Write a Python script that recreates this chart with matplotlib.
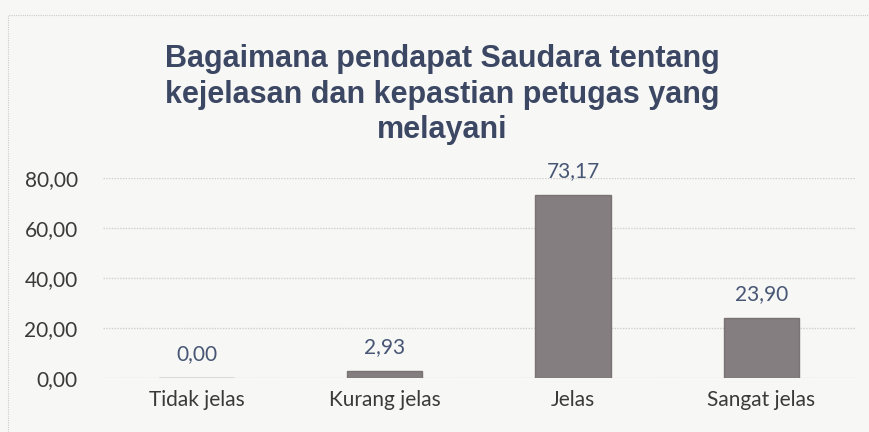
import matplotlib
matplotlib.use("Agg")
import matplotlib.pyplot as plt
from matplotlib.patches import Rectangle

categories = ["Tidak jelas", "Kurang jelas", "Jelas", "Sangat jelas"]
values = [0.00, 2.93, 73.17, 23.90]
yticks = [0, 20, 40, 60, 80]
title = "Bagaimana pendapat Saudara tentang\nkejelasan dan kepastian petugas yang\nmelayani"

def fmt(v):
    return f"{v:.2f}".replace(".", ",")

fig = plt.figure(figsize=(8.7, 4.32), dpi=100)
fig.patch.set_facecolor("#f7f7f5")
ax = fig.add_axes([0.118, 0.125, 0.865, 0.463])
ax.set_facecolor("#f7f7f5")

# chart border (scanned frame)
fig.patches.append(Rectangle((0.009, -0.05), 1.2, 1.015, transform=fig.transFigure,
                             fill=False, edgecolor="#cccccc", linewidth=0.8,
                             linestyle=(0, (1, 1))))

x = list(range(len(categories)))
ax.bar(x, values, width=0.4, color="#857e80", edgecolor="#7a7375",
       linewidth=1.0, zorder=3)

for xi, v in zip(x, values):
    ax.text(xi, v + 5.5, fmt(v), ha="center", va="bottom", fontsize=15,
            color="#475675", family="Lato", zorder=4)

ax.set_xlim(-0.5, 3.5)
ax.set_ylim(0, 80)
ax.set_yticks(yticks)
ax.set_yticklabels([fmt(t) for t in yticks], fontsize=15, color="#3a3a3a", family="Lato")
ax.set_xticks(x)
ax.set_xticklabels(categories, fontsize=15, color="#3a3a3a", family="Lato")
ax.tick_params(axis="both", length=0)
ax.tick_params(axis="y", pad=18)
ax.tick_params(axis="x", pad=9)
ax.grid(axis="y", color="#cfcfcf", linewidth=1.0, linestyle=(0, (1, 1)), zorder=0)
for s in ax.spines.values():
    s.set_visible(False)

fig.text(0.508, 0.898, title, ha="center", va="top", fontsize=22, fontweight="bold",
         color="#3b4763", family="Liberation Sans", linespacing=1.24)

fig.savefig("out.png", dpi=100, facecolor=fig.get_facecolor())
